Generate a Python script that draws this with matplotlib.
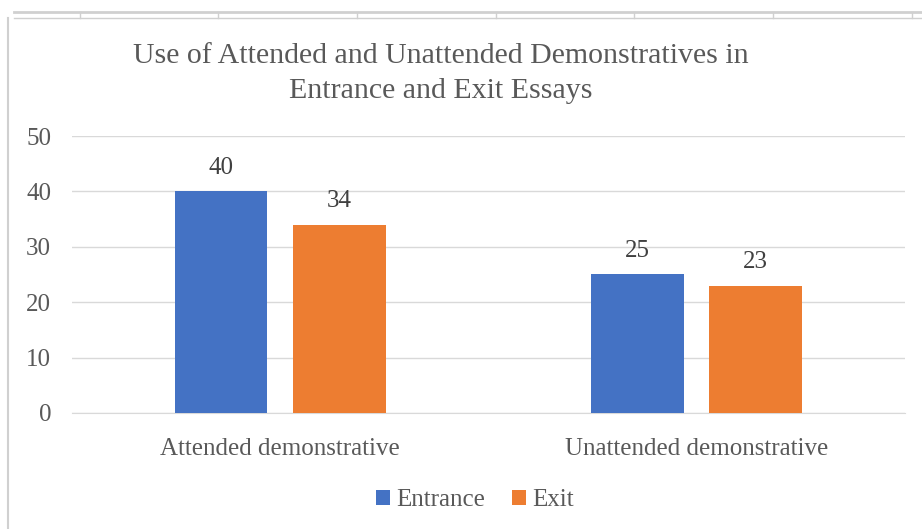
import numpy as np
import matplotlib.pyplot as plt
from matplotlib.lines import Line2D

categories = ["Attended demonstrative", "Unattended demonstrative"]
entrance = [40, 25]
exit_vals = [34, 23]
series_names = ["Entrance", "Exit"]
colors = ["#4472C4", "#ED7D31"]
yticks = [0, 10, 20, 30, 40, 50]

plt.rcParams['font.family'] = ['Liberation Serif', 'DejaVu Serif']
text_color = "#595959"

fig = plt.figure(figsize=(9.22, 5.29), dpi=100)
ax = fig.add_axes([0.078, 0.2193, 0.9035, 0.5236])

x = np.arange(len(categories))
width = 0.223
offset = 0.142
for vals, name, col, off in zip([entrance, exit_vals], series_names, colors, [-offset, offset]):
    bars = ax.bar(x + off, vals, width, color=col, label=name, zorder=3)
    for b, v in zip(bars, vals):
        ax.text(b.get_x() + b.get_width() / 2, v + 4.3, str(v), ha='center', va='center',
                fontsize=18, color="#404040")

ax.set_xlim(-0.5, 1.5)
ax.set_ylim(0, 50)
ax.set_yticks(yticks)
ax.set_xticks(x)
ax.set_xticklabels(categories)
ax.grid(axis='y', color="#D9D9D9", linewidth=1, zorder=0)
for s in ax.spines.values():
    s.set_visible(False)
ax.spines['bottom'].set_visible(True)
ax.spines['bottom'].set_color("#D9D9D9")
ax.tick_params(axis='both', length=0, labelsize=18, colors=text_color)
ax.tick_params(axis='y', pad=15)
ax.tick_params(axis='x', pad=18)

fig.text(0.478, 0.861, "Use of Attended and Unattended Demonstratives in\nEntrance and Exit Essays",
         ha='center', va='center', fontsize=21.5, color=text_color, linespacing=1.45)

fig.legend(loc='center', bbox_to_anchor=(0.515, 0.055), ncol=2, frameon=False,
           fontsize=18, handlelength=0.55, handleheight=0.55, handletextpad=0.25,
           columnspacing=1.1, labelcolor=text_color)

# sheet header strip and chart area border
grey = "#D0D0D0"
fig.add_artist(Line2D([0.015, 1.0], [1 - 12 / 529] * 2, color=grey, lw=2))
fig.add_artist(Line2D([0.015, 1.0], [1 - 18 / 529] * 2, color=grey, lw=1))
for px in [80, 218, 357, 496, 634, 773, 912]:
    fig.add_artist(Line2D([px / 922] * 2, [1 - 12 / 529, 1 - 18 / 529], color=grey, lw=1))
fig.add_artist(Line2D([8 / 922] * 2, [0, 1 - 18 / 529], color=grey, lw=1.5))

fig.savefig("out.png", dpi=100)
